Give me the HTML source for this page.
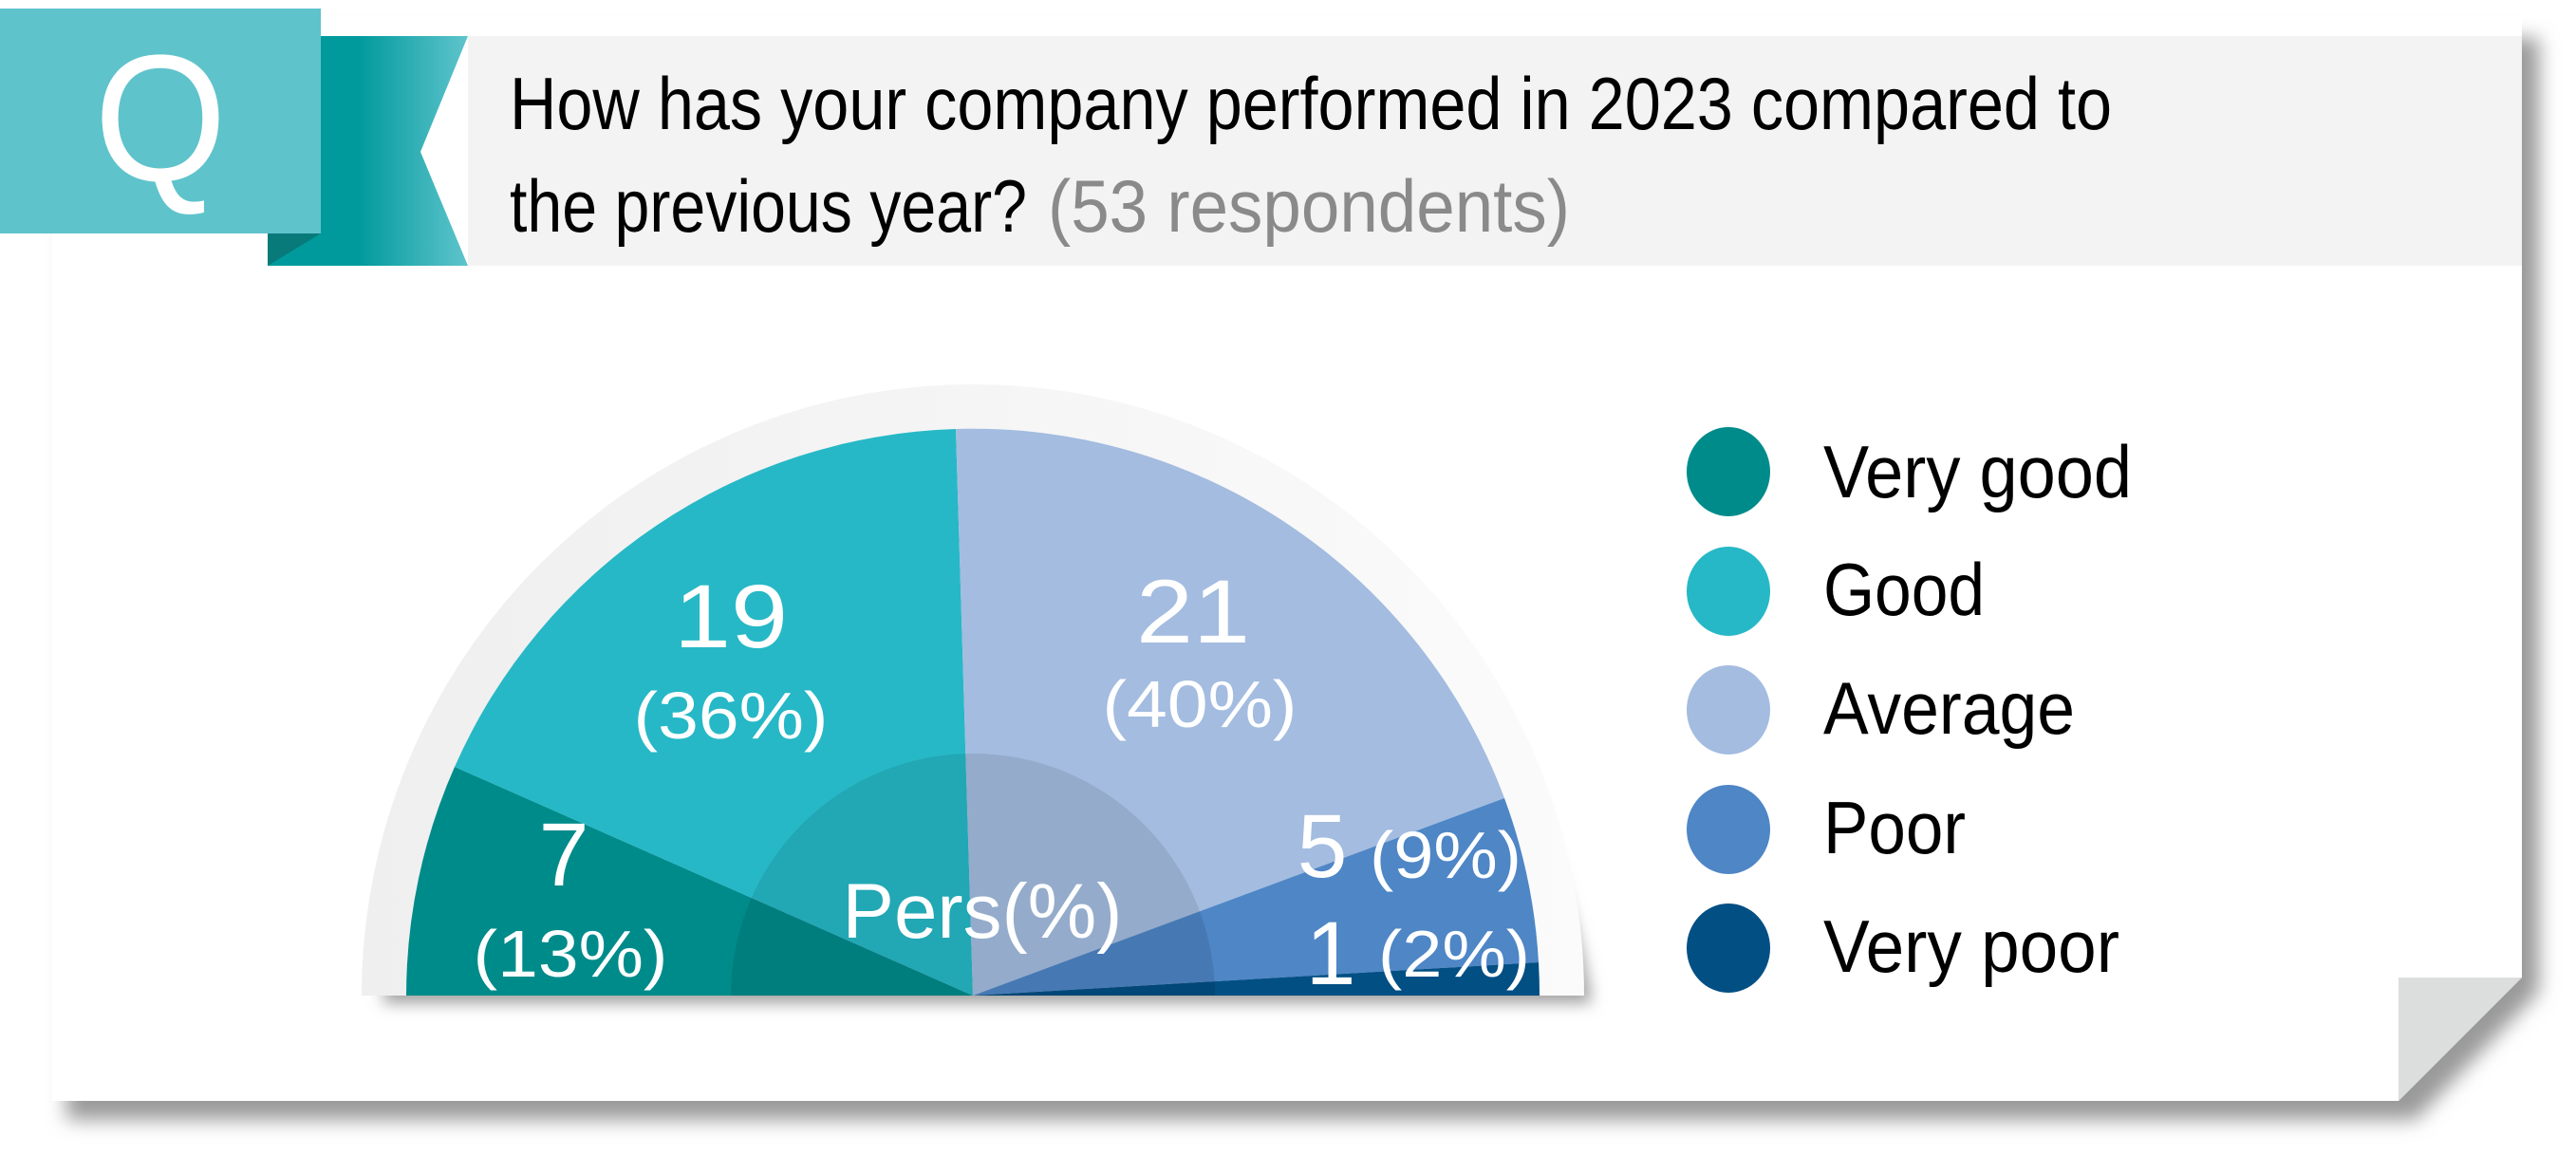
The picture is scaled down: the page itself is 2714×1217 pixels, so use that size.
<!DOCTYPE html>
<html><head><meta charset="utf-8"><style>
html,body{margin:0;padding:0;background:#fff;}
svg{display:block;}
text{font-family:"Liberation Sans",sans-serif;}
</style></head><body>
<svg width="2714" height="1217" viewBox="0 0 2714 1217" xmlns="http://www.w3.org/2000/svg">
<defs>
<filter id="sh" x="-5%" y="-5%" width="110%" height="115%"><feGaussianBlur stdDeviation="10"/></filter>
<filter id="sh2" x="-10%" y="-10%" width="120%" height="120%"><feGaussianBlur stdDeviation="8"/></filter>
<linearGradient id="rib" x1="0" x2="1" y1="0" y2="0">
<stop offset="0" stop-color="#009a9c"/><stop offset="0.45" stop-color="#009a9c"/><stop offset="1" stop-color="#5fc4cc"/></linearGradient>
<linearGradient id="ring" x1="0" x2="1"><stop offset="0" stop-color="#efefef"/><stop offset="1" stop-color="#fbfbfb"/></linearGradient>
</defs>
<!-- card shadow -->
<polygon points="70,40 2675,40 2675,1045 2545,1180 70,1180" fill="#9a9a9a" filter="url(#sh)"/>
<!-- card -->
<polygon points="55,17 2657,17 2657,1030 2527,1160 55,1160" fill="#fff"/>
<polygon points="2527,1030 2657,1030 2527,1160" fill="#dcdedd"/>
<!-- header band -->
<rect x="493" y="38" width="2164" height="242" fill="#f2f3f2"/>
<polygon points="282,38 493,38 443,160 493,280 282,280" fill="url(#rib)"/>
<polygon points="282,246 338,246 282,280" fill="#087a7a"/>
<rect x="0" y="9" width="338" height="237" fill="#5fc3cb"/>
<text x="169" y="190" font-size="190" fill="#fff" text-anchor="middle" textLength="140" lengthAdjust="spacingAndGlyphs">Q</text>
<text x="537" y="136" font-size="78" fill="#000" textLength="1688" lengthAdjust="spacingAndGlyphs">How has your company performed in 2023 compared to</text>
<text x="537" y="244" font-size="78" fill="#000" textLength="545" lengthAdjust="spacingAndGlyphs">the previous year?</text>
<text x="1104" y="244" font-size="78" fill="#8a8a8a" textLength="550" lengthAdjust="spacingAndGlyphs">(53 respondents)</text>
<!-- pie ring -->
<path d="M395,1049 A644,644 0 0 1 1669,1049 Z" fill="#a0a0a0" filter="url(#sh2)" transform="translate(8,8)"/>
<path d="M381,1049 A644,644 0 0 1 1669,1049 Z" fill="url(#ring)"/>
<!-- slices -->
<path d="M1025,1049 L428,1049 A597,597 0 0 1 479,808 Z" fill="#008b8b"/>
<path d="M1025,1049 L479,808 A597,597 0 0 1 1007,452 Z" fill="#26b8c6"/>
<path d="M1025,1049 L1007,452 A597,597 0 0 1 1585,841 Z" fill="#a3bce0"/>
<path d="M1025,1049 L1585,841 A597,597 0 0 1 1621,1014 Z" fill="#4e86c6"/>
<path d="M1025,1049 L1621,1014 A597,597 0 0 1 1622,1049 Z" fill="#024f84"/>
<path d="M770,1049 A255,255 0 0 1 1280,1049 Z" fill="#000" opacity="0.09"/>
<!-- labels -->
<g fill="#fff" text-anchor="middle">
<text x="770" y="682" font-size="95" textLength="120" lengthAdjust="spacingAndGlyphs">19</text>
<text x="770" y="778" font-size="70" textLength="205" lengthAdjust="spacingAndGlyphs">(36%)</text>
<text x="1257" y="677" font-size="95" textLength="120" lengthAdjust="spacingAndGlyphs">21</text>
<text x="1264" y="766" font-size="70" textLength="205" lengthAdjust="spacingAndGlyphs">(40%)</text>
<text x="594" y="933" font-size="95">7</text>
<text x="601" y="1029" font-size="70" textLength="205" lengthAdjust="spacingAndGlyphs">(13%)</text>
<text x="1035" y="988" font-size="82" textLength="295" lengthAdjust="spacingAndGlyphs">Pers(%)</text>
<text x="1393" y="924" font-size="95">5</text>
<text x="1523" y="925" font-size="70" textLength="160" lengthAdjust="spacingAndGlyphs">(9%)</text>
<text x="1402" y="1037" font-size="95">1</text>
<text x="1532" y="1029" font-size="70" textLength="160" lengthAdjust="spacingAndGlyphs">(2%)</text>
</g>
<!-- legend -->
<ellipse cx="1821" cy="497" rx="44" ry="47" fill="#008b8b"/>
<ellipse cx="1821" cy="623" rx="44" ry="47" fill="#26b8c6"/>
<ellipse cx="1821" cy="748" rx="44" ry="47" fill="#a3bce0"/>
<ellipse cx="1821" cy="874" rx="44" ry="47" fill="#4e86c6"/>
<ellipse cx="1821" cy="999" rx="44" ry="47" fill="#024f84"/>
<g fill="#000" font-size="78">
<text x="1921" y="524" textLength="325" lengthAdjust="spacingAndGlyphs">Very good</text>
<text x="1921" y="648" textLength="170" lengthAdjust="spacingAndGlyphs">Good</text>
<text x="1921" y="773" textLength="265" lengthAdjust="spacingAndGlyphs">Average</text>
<text x="1921" y="899" textLength="150" lengthAdjust="spacingAndGlyphs">Poor</text>
<text x="1921" y="1024" textLength="312" lengthAdjust="spacingAndGlyphs">Very poor</text>
</g>
</svg>
</body></html>
